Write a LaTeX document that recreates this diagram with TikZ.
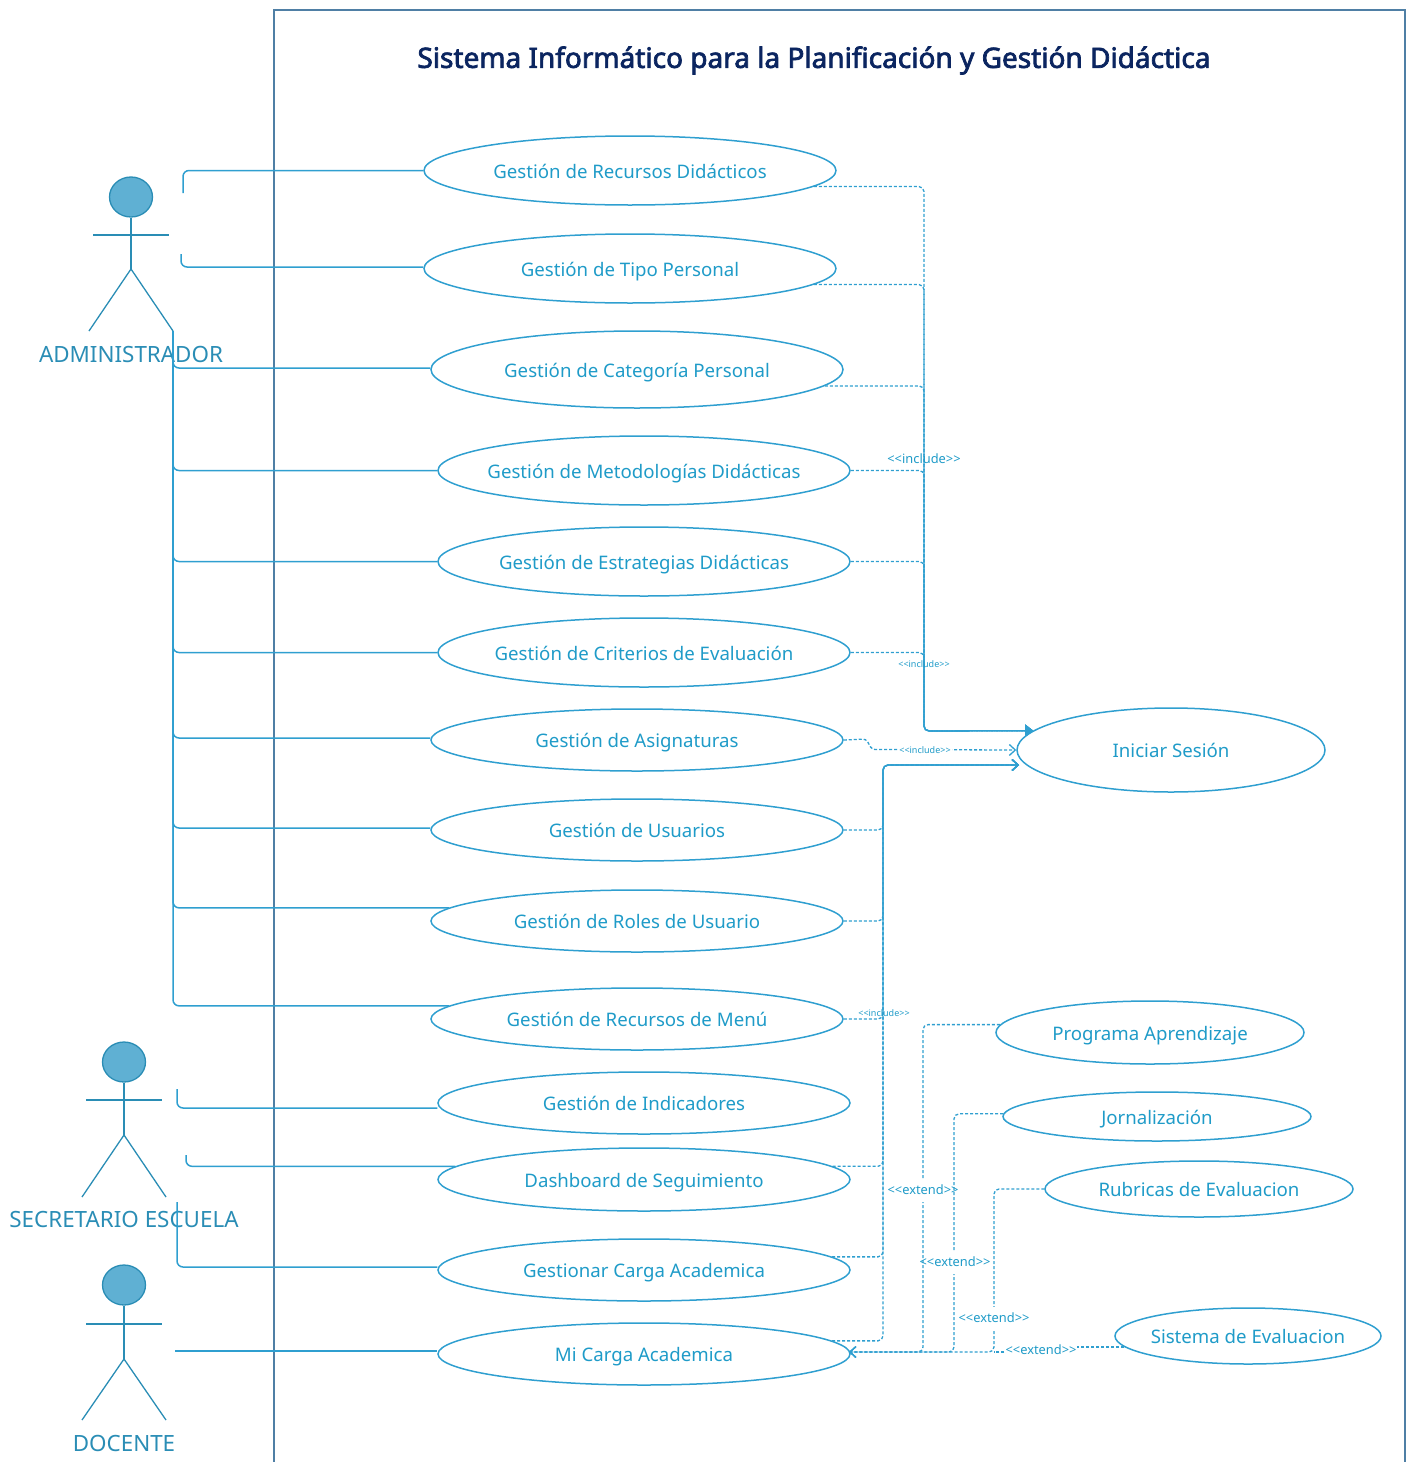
\documentclass[tikz,border=0pt]{standalone}
\usepackage{fontspec}
\setmainfont{Noto Sans}
\newfontfamily\titlefont[FakeBold=2.6]{Noto Sans}
\usetikzlibrary{shapes.geometric,arrows.meta}
\definecolor{umlline}{HTML}{2F9FD0}
\definecolor{umltext}{HTML}{1F9BC8}
\definecolor{actorblue}{HTML}{2A8DB5}
\definecolor{headfill}{HTML}{5FB0D3}
\definecolor{boxline}{HTML}{4F7FA5}
\definecolor{titleblue}{HTML}{0B2560}
\tikzset{
	usecase/.style={draw=umlline,line width=1.5pt,ellipse,inner xsep=-40pt,inner ysep=0pt,text=umltext,text height=19pt,text depth=4pt,font=\fontsize{18.65}{23}\selectfont},
	wide/.style={minimum width=412pt},
	narrow/.style={minimum width=308pt},
	actorhead/.style={draw=actorblue,fill=headfill,line width=1.3pt,ellipse,inner sep=0pt,minimum width=43pt,minimum height=40pt},
	actorline/.style={draw=actorblue,line width=1.3pt},
	actorlabel/.style={text=actorblue,font=\fontsize{22.4}{26}\selectfont},
	assocline/.style={draw=umlline,line width=1.5pt,rounded corners=6pt},
	depline/.style={draw=umlline,line width=1.3pt,densely dashed,rounded corners=5pt},
	bigtag/.style={text=umltext,font=\fontsize{12.85}{15}\selectfont,inner sep=1pt},
	smalltag/.style={text=umltext,font=\fontsize{9}{11}\selectfont,inner sep=1pt},
	gaptag/.style={fill=white,inner sep=0pt,minimum width=10pt,minimum height=23pt}
}
\begin{document}
\begin{tikzpicture}[x=1pt,y=-1pt]
	\useasboundingbox (0,0) rectangle (1409,1462);

	\coordinate (boxa) at (274,1462);
	\coordinate (boxb) at (274,10);
	\coordinate (boxc) at (1405,10);
	\coordinate (boxd) at (1405,1462);
	\draw[boxline,line width=1.6pt] (boxa) -- (boxb) -- (boxc) -- (boxd); % Boundary.
	\node[text=titleblue,font=\fontsize{28}{34}\titlefont] (title) at (814,60.5) {Sistema Informático para la Planificación y Gestión Didáctica};

	\node[usecase,wide,minimum height=69pt] (recursos) at (630,170.5) {Gestión de Recursos Didácticos};
	\node[usecase,wide,minimum height=69pt] (tipo) at (630,268.5) {Gestión de Tipo Personal};
	\node[usecase,wide,minimum height=77pt] (categoria) at (637,369.5) {Gestión de Categoría Personal};
	\node[usecase,wide,minimum height=69pt] (metodologias) at (644,470.5) {Gestión de Metodologías Didácticas};
	\node[usecase,wide,minimum height=69pt] (estrategias) at (644,561.5) {Gestión de Estrategias Didácticas};
	\node[usecase,wide,minimum height=69pt] (criterios) at (644,652.5) {Gestión de Criterios de Evaluación};
	\node[usecase,wide,minimum height=62pt] (asignaturas) at (637,740) {Gestión de Asignaturas};
	\node[usecase,wide,minimum height=62pt] (usuarios) at (637,830) {Gestión de Usuarios};
	\node[usecase,wide,minimum height=62pt] (roles) at (637,921) {Gestión de Roles de Usuario};
	\node[usecase,wide,minimum height=62pt] (menu) at (637,1019) {Gestión de Recursos de Menú};
	\node[usecase,wide,minimum height=62pt] (indicadores) at (644,1103) {Gestión de Indicadores};
	\node[usecase,wide,minimum height=63pt] (dashboard) at (644,1179.5) {Dashboard de Seguimiento};
	\node[usecase,wide,minimum height=62pt] (gestcarga) at (644,1270) {Gestionar Carga Academica};
	\node[usecase,wide,minimum height=62pt] (micarga) at (644,1354) {Mi Carga Academica};

	\node[usecase,narrow,minimum height=84pt] (sesion) at (1171,750) {Iniciar Sesión};
	\node[usecase,narrow,minimum height=63pt] (programa) at (1150,1032.5) {Programa Aprendizaje};
	\node[usecase,narrow,minimum height=49pt] (jornal) at (1157,1116.5) {Jornalización};
	\node[usecase,narrow,minimum height=56pt] (rubricas) at (1199,1189) {Rubricas de Evaluacion};
	\node[usecase,minimum width=266pt,minimum height=56pt] (sisteval) at (1248,1336) {Sistema de Evaluacion};

	% Actors.
	\node[actorhead] (adminhead) at (131,197) {};
	\coordinate (adminhip) at (131,269);
	\coordinate (adminl) at (89,331);
	\coordinate (adminr) at (173,331);
	\coordinate (adminarma) at (93,235);
	\coordinate (adminarmb) at (169,235);
	\draw[actorline] (adminhead) -- (adminhip);
	\draw[actorline] (adminarma) -- (adminarmb);
	\draw[actorline] (adminl) -- (adminhip) -- (adminr);
	\node[actorlabel] (adminname) at (131,354) {ADMINISTRADOR};

	\node[actorhead] (sechead) at (124,1062) {};
	\coordinate (sechip) at (124,1135);
	\coordinate (secl) at (82,1197);
	\coordinate (secr) at (166,1197);
	\coordinate (secarma) at (86,1100);
	\coordinate (secarmb) at (162,1100);
	\draw[actorline] (sechead) -- (sechip);
	\draw[actorline] (secarma) -- (secarmb);
	\draw[actorline] (secl) -- (sechip) -- (secr);
	\node[actorlabel] (secname) at (124,1219) {SECRETARIO ESCUELA};

	\node[actorhead] (dochead) at (124,1285) {};
	\coordinate (dochip) at (124,1359);
	\coordinate (docl) at (82,1420);
	\coordinate (docr) at (166,1420);
	\coordinate (docarma) at (86,1324);
	\coordinate (docarmb) at (162,1324);
	\draw[actorline] (dochead) -- (dochip);
	\draw[actorline] (docarma) -- (docarmb);
	\draw[actorline] (docl) -- (dochip) -- (docr);
	\node[actorlabel] (docname) at (124,1443) {DOCENTE};

	% Associations.
	\coordinate (adminfree) at (183,193);
	\coordinate (adminfreeb) at (181,254);
	\draw[assocline] (adminfree) |- (recursos.west);
	\draw[assocline] (adminfreeb) |- ([yshift=1.5pt]tipo.west);
	\draw[assocline] (adminr) |- ([yshift=1.5pt]categoria.west);
	\draw[assocline] (adminr) |- (metodologias.west);
	\draw[assocline] (adminr) |- (estrategias.west);
	\draw[assocline] (adminr) |- (criterios.west);
	\draw[assocline] (adminr) |- ([yshift=2pt]asignaturas.west);
	\draw[assocline] (adminr) |- ([yshift=2pt]usuarios.west);
	\draw[assocline] (adminr) |- (roles.176);
	\draw[assocline] (adminr) |- (menu.176);
	\coordinate (secfree) at (177,1089);
	\coordinate (secfreeb) at (186,1155);
	\coordinate (secfreec) at (177,1202);
	\coordinate (docfree) at (175,1351);
	\draw[assocline] (secfree) |- ([yshift=-5pt]indicadores.west);
	\draw[assocline] (secfreeb) |- (dashboard.176);
	\draw[assocline] (secfreec) |- ([yshift=3pt]gestcarga.west);
	\draw[assocline] (docfree) -- ([yshift=3pt]micarga.west);

	% Includes, first bundle.
	\coordinate (joina) at (924,731);
	\draw[depline,-{Triangle[length=8pt,width=12pt]}] (recursos.355.2) -| (joina) -- (sesion.172.1);
	\draw[depline,-{Triangle[length=8pt,width=12pt]}] (tipo.355.5) -| (joina) -- (sesion.172.1);
	\draw[depline,-{Triangle[length=8pt,width=12pt]}] (categoria.355) -| (joina) -- (sesion.172.1);
	\draw[depline,-{Triangle[length=8pt,width=12pt]}] (metodologias.east) -| (joina) -- (sesion.172.1);
	\draw[depline,-{Triangle[length=8pt,width=12pt]}] (estrategias.east) -| (joina) -- (sesion.172.1);
	\draw[depline,-{Triangle[length=8pt,width=12pt]}] (criterios.east) -| (joina) -- (sesion.172.1);
	\node[bigtag] (taga) at (924,459) {<{}<include>{}>};
	\node[smalltag] (tagb) at (924,664.5) {<{}<include>{}>};

	\coordinate (jogb) at (866,739);
	\coordinate (jogc) at (872,749.5);
	\draw[depline,rounded corners=3pt,-{Straight Barb[length=6pt,width=11pt]}] (asignaturas.east) -- (jogb) -- (jogc) -- (sesion.west);
	\node[smalltag,fill=white] (tagc) at (925,750) {<{}<include>{}>};

	% Includes, second bundle.
	\coordinate (joinb) at (883,765);
	\coordinate (sesionin) at (1019,765);
	\draw[depline,-{Straight Barb[length=6pt,width=11pt]}] (usuarios.east) -| (joinb) -- (sesionin);
	\draw[depline,-{Straight Barb[length=6pt,width=11pt]}] (roles.east) -| (joinb) -- (sesionin);
	\draw[depline,-{Straight Barb[length=6pt,width=11pt]}] (menu.east) -| (joinb) -- (sesionin);
	\draw[depline,-{Straight Barb[length=6pt,width=11pt]}] (dashboard.4.1) -| (joinb) -- (sesionin);
	\draw[depline,-{Straight Barb[length=6pt,width=11pt]}] (gestcarga.4.2) -| (joinb) -- (sesionin);
	\draw[depline,-{Straight Barb[length=6pt,width=11pt]}] (micarga.4.2) -| (joinb) -- (sesionin);
	\node[smalltag] (tagd) at (884,1013) {<{}<include>{}>};

	% Extends.
	\coordinate (cola) at (923,1352);
	\coordinate (colb) at (954,1352);
	\coordinate (colc) at (994,1352);
	\coordinate (micargain) at (849,1352);
	\coordinate (sisdrop) at (1041,1352);
	\draw[depline,-{Straight Barb[length=6pt,width=11pt]}] (programa.177.5) -| (cola) -- (micargain);
	\draw[depline,-{Straight Barb[length=6pt,width=11pt]}] (jornal.179) -| (colb) -- (micargain);
	\draw[depline,-{Straight Barb[length=6pt,width=11pt]}] (rubricas.west) -| (colc) -- (micargain);
	\draw[depline,rounded corners=0pt] (sisteval.185.7) -| (sisdrop) -- (colc);
	\node[gaptag,label={[bigtag]center:{<{}<extend>{}>}}] (tage) at (923,1190) {};
	\node[gaptag,label={[bigtag]center:{<{}<extend>{}>}}] (tagf) at (955,1262) {};
	\node[gaptag,label={[bigtag]center:{<{}<extend>{}>}}] (tagg) at (994,1318) {};
	\node[bigtag,fill=white] (tagh) at (1041,1350) {<{}<extend>{}>};
\end{tikzpicture}
\end{document}
